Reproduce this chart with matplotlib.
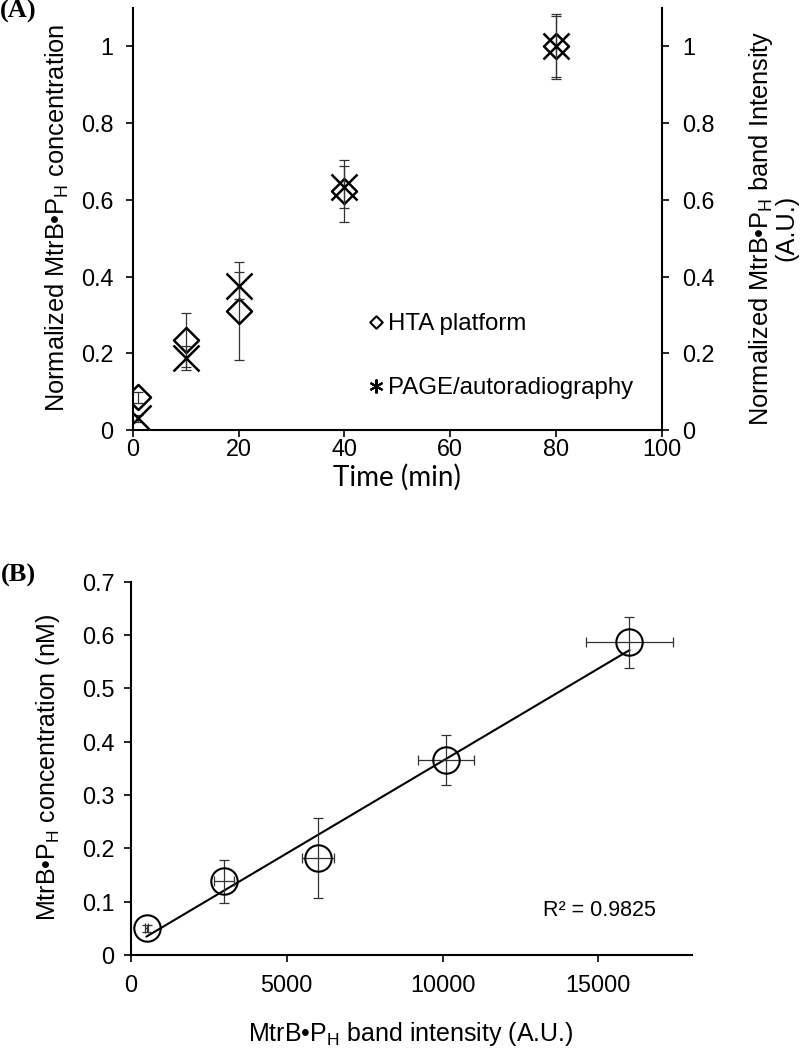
import numpy as np
import matplotlib
matplotlib.use('Agg')
import matplotlib.pyplot as plt
from matplotlib.lines import Line2D
from matplotlib.path import Path
from matplotlib.ticker import FuncFormatter

# ---------------- Panel A data ----------------
time_min = [1, 10, 20, 40, 80]
hta_conc = [0.085, 0.234, 0.310, 0.623, 1.0]
hta_err = [0.015, 0.070, 0.127, 0.080, 0.085]
page_int = [0.030, 0.188, 0.376, 0.633, 1.0]
page_err = [0.010, 0.031, 0.035, 0.055, 0.080]
a_xticks = [0, 20, 40, 60, 80, 100]
a_yticks = [0, 0.2, 0.4, 0.6, 0.8, 1.0]
legend_labels = ["HTA platform", "PAGE/autoradiography"]

# ---------------- Panel B data ----------------
band_int = [500, 3000, 6000, 10100, 16000]
band_int_err = [60, 320, 520, 900, 1400]
conc_nM = [0.050, 0.138, 0.181, 0.365, 0.586]
conc_err = [0.007, 0.040, 0.075, 0.047, 0.047]
b_xticks = [0, 5000, 10000, 15000]
b_yticks = [0, 0.1, 0.2, 0.3, 0.4, 0.5, 0.6, 0.7]
r2_text = "R\u00b2 = 0.9825"

plt.rcParams['font.family'] = ['Liberation Sans', 'DejaVu Sans']
plt.rcParams['mathtext.fontset'] = 'custom'
plt.rcParams['mathtext.rm'] = 'Liberation Sans'
plt.rcParams['mathtext.default'] = 'regular'

W, H = 800, 1052
fig = plt.figure(figsize=(W / 100, H / 100), dpi=100)

def fx(px):
    return px / W

def fy(py):
    return 1 - py / H

FS = 16.8      # tick labels
LFS = 18.3     # axis titles
ECOL = '#333333'
fmt = FuncFormatter(lambda v, p: f'{v:g}')
diamond = Path([(0, 1), (1, 0), (0, -1), (-1, 0), (0, 1)],
               [Path.MOVETO, Path.LINETO, Path.LINETO, Path.LINETO, Path.CLOSEPOLY])

# ---------------- Panel A ----------------
axA = fig.add_axes([fx(133), fy(430), fx(661.5) - fx(133), fy(8) - fy(430)])
axA2 = axA.twinx()
for ax in (axA, axA2):
    ax.set_xlim(0, 100)
    ax.set_ylim(0, 1.1)
    ax.set_yticks(a_yticks)
    ax.yaxis.set_major_formatter(fmt)
    ax.patch.set_visible(False)
axA.set_xticks(a_xticks)
axA.xaxis.set_major_formatter(fmt)

axA.errorbar(time_min, hta_conc, yerr=hta_err, fmt='none', ecolor=ECOL,
             elinewidth=0.9, capsize=3.3, capthick=0.9)
axA.plot(time_min, hta_conc, linestyle='none', marker=diamond, markersize=18,
         markerfacecolor='none', markeredgecolor='black', markeredgewidth=1.8)
axA2.errorbar(time_min, page_int, yerr=page_err, fmt='none', ecolor=ECOL,
              elinewidth=0.9, capsize=3.3, capthick=0.9)
axA2.plot(time_min, page_int, linestyle='none', marker='x', markersize=19,
          markeredgecolor='black', markeredgewidth=1.8)

for s in ('top', 'right'):
    axA.spines[s].set_visible(False)
for s in ('top', 'left', 'bottom'):
    axA2.spines[s].set_visible(False)
for ax in (axA, axA2):
    for s in ax.spines.values():
        s.set_linewidth(1.5)
axA.tick_params(axis='both', direction='out', length=5, width=1.2, labelsize=FS, pad=9)
axA.tick_params(axis='x', pad=1)
axA2.tick_params(axis='y', direction='out', length=5, width=1.2, labelsize=FS, pad=10)

handles = [Line2D([], [], linestyle='none', marker=diamond, markersize=9,
                  markerfacecolor='none', markeredgecolor='black', markeredgewidth=1.5),
           Line2D([], [], linestyle='none', marker=(6, 2, 0), markersize=10,
                  markeredgecolor='black', markeredgewidth=1.5)]
axA.legend(handles, legend_labels, loc='center left',
           bbox_to_anchor=((369 - 133) / 528.5, (430 - 356.4) / 422),
           frameon=False, fontsize=17.3, borderpad=0, borderaxespad=0,
           handlelength=0.6, handletextpad=0.2, labelspacing=1.75)

fig.text(fx(57), fy(218), r'Normalized MtrB•P$_\mathregular{H}$ concentration',
         rotation=90, ha='center', va='center', fontsize=LFS)
fig.text(fx(773), fy(228), 'Normalized MtrB•P$_\\mathregular{H}$ band Intensity\n(A.U.)',
         rotation=90, ha='center', va='center', multialignment='center',
         fontsize=LFS, linespacing=0.95)
fig.text(fx(397), fy(477), 'Time (min)', ha='center', va='center',
         fontsize=20, family=['Lato', 'DejaVu Sans'])
fig.text(fx(0), fy(0), '(A)', ha='left', va='top', fontsize=19,
         family=['Liberation Serif'], weight='bold')

# ---------------- Panel B ----------------
axB = fig.add_axes([fx(131), fy(955), fx(691.7) - fx(131), fy(581.7) - fy(955)])
axB.set_xlim(0, 18000)
axB.set_ylim(0, 0.7)
axB.set_xticks(b_xticks)
axB.set_yticks(b_yticks)
axB.xaxis.set_major_formatter(fmt)
axB.yaxis.set_major_formatter(fmt)

bx = np.array(band_int, dtype=float)
by = np.array(conc_nM, dtype=float)
slope, intercept = np.polyfit(bx, by, 1)
xl = np.array([bx.min(), bx.max()])
axB.plot(xl, slope * xl + intercept, color='black', linewidth=1.5)
axB.errorbar(band_int, conc_nM, xerr=band_int_err, yerr=conc_err, fmt='none',
             ecolor=ECOL, elinewidth=0.9, capsize=3.3, capthick=0.9)
axB.plot(band_int, conc_nM, linestyle='none', marker='o', markersize=19,
         markerfacecolor='none', markeredgecolor='black', markeredgewidth=1.5)

for s in ('top', 'right'):
    axB.spines[s].set_visible(False)
for s in axB.spines.values():
    s.set_linewidth(1.5)
axB.tick_params(axis='both', direction='out', length=5, width=1.2, labelsize=FS)
axB.tick_params(axis='x', pad=9)
axB.tick_params(axis='y', pad=7)

fig.text(fx(543), fy(910), r2_text, ha='left', va='center', fontsize=15.5)
fig.text(fx(48), fy(767), r'MtrB•P$_\mathregular{H}$ concentration (nM)',
         rotation=90, ha='center', va='center', fontsize=18)
fig.text(fx(411), fy(1034), r'MtrB•P$_\mathregular{H}$ band intensity (A.U.)',
         ha='center', va='center', fontsize=18)
fig.text(fx(1), fy(564), '(B)', ha='left', va='top', fontsize=19,
         family=['Liberation Serif'], weight='bold')

fig.savefig('out.png', dpi=100)
